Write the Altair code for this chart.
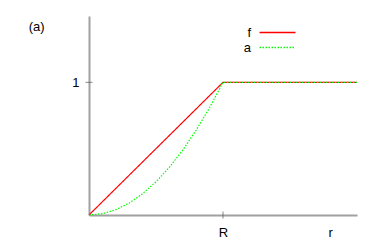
import altair as alt
import pandas as pd

# values
f_r = [0.0, 1.0, 2.0]
f_v = [0.0, 1.0, 1.0]
a_r = [0.0, 0.1, 0.2, 0.3, 0.4, 0.5, 0.6, 0.7, 0.8, 0.9, 1.0, 2.0]
a_v = [0.0, 0.01, 0.04, 0.09, 0.16, 0.25, 0.36, 0.49, 0.64, 0.81, 1.0, 1.0]
series = ["f", "a"]
colors = ["#ff0000", "#00ff00"]
dashes = [[1, 0], [1.5, 1.5]]
x_ticks = [1.0, 1.8]
x_labels = ["R", "r"]
y_ticks = [1.0]

df = pd.concat([
    pd.DataFrame({"r": f_r, "v": f_v, "s": "f", "o": range(len(f_r))}),
    pd.DataFrame({"r": a_r, "v": a_v, "s": "a", "o": range(len(a_r))}),
])
ticks_x = pd.DataFrame({"r": [x_ticks[0]], "v": [0.0]})
ticks_y = pd.DataFrame({"r": [0.0], "v": y_ticks})

xs = alt.Scale(domain=[0, 2], nice=False, zero=False)
ys = alt.Scale(domain=[0, 1.5], nice=False, zero=False)

lbl_expr = "datum.value == 1 ? 'R' : 'r'"
xaxis = alt.Axis(values=x_ticks, labelExpr=lbl_expr, ticks=False, grid=False,
                 domainColor="#a0a0a0", domainWidth=2, labelFontSize=13,
                 labelPadding=11, labelColor="#000000", title=None,
                 labelFont="Liberation Sans")
yaxis = alt.Axis(values=y_ticks, format="d", ticks=False, grid=False,
                 domainColor="#a0a0a0", domainWidth=2, labelFontSize=13,
                 labelPadding=10, labelColor="#000000", title=None,
                 labelFont="Liberation Sans")

color = alt.Color("s:N", scale=alt.Scale(domain=series, range=colors),
                  legend=alt.Legend(title=None, orient="none", legendX=182, legendY=10,
                                    symbolType="M-6,0H6", symbolSize=36,
                                    symbolStrokeWidth=1.5, labelAlign="right",
                                    labelOffset={"expr": "-33"}, labelFontSize=13,
                                    labelFont="Liberation Sans", rowPadding=1,
                                    labelColor="#000000", padding=0))
dash = alt.StrokeDash("s:N", scale=alt.Scale(domain=series, range=dashes), legend=None)

base = alt.Chart(df)
lf = base.transform_filter("datum.s == 'f'").mark_line(strokeWidth=1.2).encode(
    x=alt.X("r:Q", scale=xs, axis=xaxis),
    y=alt.Y("v:Q", scale=ys, axis=yaxis),
    color=color, strokeDash=dash, order="o:Q")
la = base.transform_filter("datum.s == 'a'").mark_line(strokeWidth=1.2).encode(
    x=alt.X("r:Q", scale=xs), y=alt.Y("v:Q", scale=ys),
    color=color, strokeDash=dash, order="o:Q")

tx = alt.Chart(ticks_x).mark_tick(orient="vertical", size=7, thickness=1, color="#555555").encode(
    x=alt.X("r:Q", scale=xs), y=alt.Y("v:Q", scale=ys))
ty = alt.Chart(ticks_y).mark_tick(orient="horizontal", size=7, thickness=1, color="#555555").encode(
    x=alt.X("r:Q", scale=xs), y=alt.Y("v:Q", scale=ys))

chart = alt.layer(lf, la, tx, ty).properties(
    width=268, height=199,
    title=alt.TitleParams("(a)", anchor="start", dx=-43, dy=22, fontSize=13,
                          fontWeight="normal", font="Liberation Sans", color="#000000"),
    autosize=alt.AutoSizeParams(type="none"),
    padding={"left": 81, "top": 8, "right": 10, "bottom": 30},
).configure(background="white").configure_view(stroke=None)

chart.save("out.html", embed_options={"renderer": "svg", "actions": False})
